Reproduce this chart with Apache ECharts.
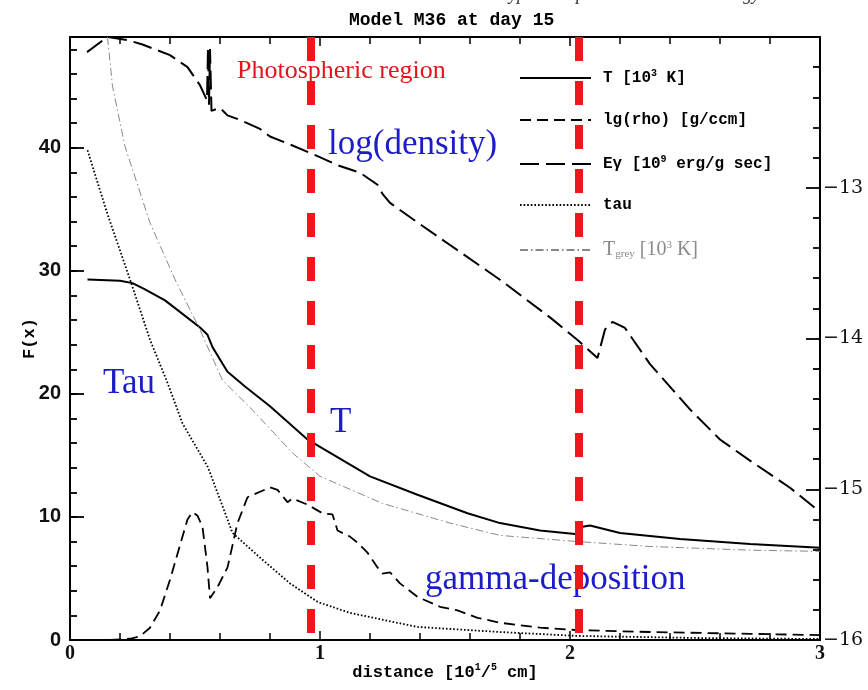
<!DOCTYPE html>
<html>
<head>
<meta charset="utf-8">
<script src="https://cdn.jsdelivr.net/npm/echarts@6/dist/echarts.min.js"></script>
<style>
html,body{margin:0;padding:0;background:#fff}
#chart{width:868px;height:690px}
</style>
</head>
<body>
<div id="chart"></div>
<script>
// Temperature T [10^3 K]
const tX = [0.07,0.2,0.25,0.3,0.38,0.45,0.52,0.55,0.57,0.6,0.63,0.7,0.8,0.95,1.0,1.2,1.39,1.59,1.72,1.88,2.03,2.05,2.08,2.2,2.44,2.72,3.0];
const tY = [29.3,29.2,29.0,28.5,27.6,26.5,25.4,24.8,23.8,22.8,21.8,20.6,19.0,16.3,15.7,13.3,11.8,10.3,9.5,8.9,8.6,9.2,9.3,8.7,8.2,7.8,7.5];
// Grey-atmosphere temperature
const tgX = [0.15,0.17,0.22,0.32,0.42,0.52,0.61,0.72,0.89,1.0,1.25,1.52,1.72,2.03,2.32,2.72,3.0];
const tgY = [49.0,45.0,40.1,33.9,29.3,25.2,21.1,18.9,15.2,13.3,11.1,9.5,8.5,8.0,7.6,7.3,7.2];
// Optical depth
const tauX = [0.07,0.15,0.24,0.32,0.39,0.45,0.55,0.56,0.65,0.76,0.88,0.99,1.12,1.39,1.72,2.03,2.52,3.0];
const tauY = [39.8,34.6,29.3,24.4,20.9,17.6,14.1,13.6,8.7,6.7,4.6,3.1,2.2,1.06,0.65,0.33,0.16,0.08];
// Gamma-ray energy deposition
const gamX = [0.16,0.24,0.28,0.32,0.36,0.40,0.44,0.47,0.49,0.51,0.53,0.55,0.56,0.59,0.63,0.67,0.71,0.80,0.83,0.87,0.89,0.95,1.01,1.05,1.07,1.12,1.15,1.19,1.23,1.25,1.28,1.32,1.39,1.48,1.55,1.63,1.72,1.88,2.03,2.32,2.72,3.0];
const gamY = [0,0.1,0.3,1.0,2.4,4.9,7.7,9.8,10.4,10.1,9.2,5.9,3.4,4.3,5.9,9.5,11.6,12.4,12.2,11.2,11.5,11.0,10.3,10.2,8.9,8.4,7.9,7.1,5.9,5.4,5.5,4.6,3.5,2.7,2.4,1.8,1.4,1.0,0.8,0.65,0.5,0.4];
// log10 density (right axis)
const rhoX = [0.068,0.15,0.23,0.29,0.40,0.47,0.52,0.548,0.552,0.556,0.56,0.566,0.60,0.63,0.68,0.76,0.80,0.89,0.99,1.07,1.16,1.23,1.25,1.28,1.39,1.52,1.72,1.92,2.03,2.11,2.14,2.17,2.22,2.32,2.48,2.60,2.72,2.88,3.0];
const rhoY = [-12.10,-12.00,-12.02,-12.05,-12.12,-12.20,-12.32,-12.42,-12.07,-12.45,-12.08,-12.49,-12.47,-12.52,-12.55,-12.61,-12.66,-12.72,-12.79,-12.85,-12.90,-12.98,-13.04,-13.10,-13.23,-13.38,-13.61,-13.86,-14.01,-14.13,-13.94,-13.89,-13.93,-14.17,-14.47,-14.67,-14.81,-14.99,-15.15];
// Boundaries of the photospheric region
const photoBounds = [0.964, 2.036];

const pairs = (xs, ys) => xs.map((x, i) => [x, ys[i]]);

const chart = echarts.init(document.getElementById('chart'), null, {renderer: 'canvas'});

const tickFont = {fontFamily: 'Liberation Serif', fontWeight: 'bold', fontSize: 20, color: '#111'};
const axisLine = {show: true, onZero: false, lineStyle: {color: '#000', width: 2}};
const shortDash = [11, 6];
const longDash = [19, 7];

const legendText = {
  T: '{b|T [10}{s|3}{b| K]}',
  rho: '{b|lg(rho) [g/ccm]}',
  Egamma: '{b|Eγ [10}{s|9}{b| erg/g sec]}',
  tau: '{b|tau}',
  Tgrey: '{g|T}{gb|grey}{g| [10}{gs|3}{g| K]}'
};
const legendRows = [
  {name: 'T', y: 78},
  {name: 'rho', y: 122, lineStyle: {type: shortDash}},
  {name: 'Egamma', y: 164, lineStyle: {type: longDash}},
  {name: 'tau', y: 207},
  {name: 'Tgrey', y: 250}
];
const legendRich = {
  b: {fontFamily: 'Liberation Mono', fontWeight: 'bold', fontSize: 16, color: '#000', lineHeight: 20},
  s: {fontFamily: 'Liberation Mono', fontWeight: 'bold', fontSize: 10, color: '#000', verticalAlign: 'top', lineHeight: 20},
  g: {fontFamily: 'Liberation Serif', fontSize: 20, color: '#8a8a8a', lineHeight: 20},
  gb: {fontFamily: 'Liberation Serif', fontSize: 11, color: '#8a8a8a', verticalAlign: 'bottom', lineHeight: 20},
  gs: {fontFamily: 'Liberation Serif', fontSize: 11, color: '#8a8a8a', verticalAlign: 'top', lineHeight: 20}
};

const option = {
  backgroundColor: '#fff',
  animation: false,
  title: {
    text: 'Model M36 at day 15',
    left: 344, top: 6,
    textStyle: {fontFamily: 'Liberation Mono', fontWeight: 'bold', fontSize: 18, color: '#000'}
  },
  legend: legendRows.map(r => ({
    data: [r.lineStyle ? {name: r.name, lineStyle: r.lineStyle} : r.name],
    left: 519, top: r.y - 10,
    itemWidth: 71, itemHeight: 20, padding: 0,
    itemStyle: {color: 'rgba(0,0,0,0)', borderWidth: 0},
    formatter: n => legendText[n],
    textStyle: {rich: legendRich, padding: [0, 0, 0, 7]},
    selectedMode: false
  })),
  grid: {left: 70, right: 48, top: 37, bottom: 50},
  xAxis: [
    {
      type: 'value', min: 0, max: 3, interval: 1, position: 'bottom',
      axisLine, splitLine: {show: false},
      axisTick: {inside: true, length: 9, lineStyle: {color: '#000', width: 1.5}},
      minorTick: {show: true, splitNumber: 5, length: 7, lineStyle: {color: '#000', width: 1.5}},
      axisLabel: Object.assign({margin: 4}, tickFont),
      name: '{n|distance [10}{s|1}{n|/}{s|5}{n| cm]}',
      nameLocation: 'middle', nameGap: 22, nameMoveOverlap: false,
      nameTextStyle: {verticalAlign: 'top', rich: {
        n: {fontFamily: 'Liberation Mono', fontWeight: 'bold', fontSize: 17, color: '#000', lineHeight: 22},
        s: {fontFamily: 'Liberation Mono', fontWeight: 'bold', fontSize: 10, color: '#000', verticalAlign: 'top', lineHeight: 22}
      }}
    },
    {
      type: 'value', min: 0, max: 3, interval: 1, position: 'top',
      axisLine, splitLine: {show: false}, axisLabel: {show: false},
      axisTick: {inside: true, length: 9, lineStyle: {color: '#000', width: 1.5}},
      minorTick: {show: true, splitNumber: 5, length: 7, lineStyle: {color: '#000', width: 1.5}}
    }
  ],
  yAxis: [
    {
      type: 'value', min: 0, max: 49, interval: 10, position: 'left',
      axisLine, splitLine: {show: false},
      axisTick: {inside: true, length: 14, lineStyle: {color: '#000', width: 1.8}},
      axisLabel: {margin: 9, showMaxLabel: false, fontFamily: 'Liberation Sans', fontWeight: 'bold', fontSize: 20, color: '#111'},
      name: 'F(x)', nameLocation: 'middle', nameGap: 32, nameRotate: 90, nameMoveOverlap: false,
      nameTextStyle: {fontFamily: 'Liberation Mono', fontWeight: 'bold', fontSize: 17, color: '#000'}
    },
    {
      type: 'value', min: -16, max: -12, interval: 1, position: 'right',
      axisLine, splitLine: {show: false},
      axisTick: {inside: true, length: 14, lineStyle: {color: '#000', width: 1.8}},
      minorTick: {show: true, splitNumber: 5, length: 7, lineStyle: {color: '#000', width: 1.8}},
      axisLabel: {margin: 3, showMaxLabel: false, fontFamily: 'DejaVu Serif', fontSize: 19, color: '#111',
        formatter: v => String(v).replace('-', '\u2212')}
    },
    {
      // minor ticks of the F(x) scale
      type: 'value', min: 0, max: 49, interval: 2, position: 'left',
      axisLine: {show: false, onZero: false}, splitLine: {show: false}, axisLabel: {show: false},
      axisTick: {inside: true, length: 7, lineStyle: {color: '#000', width: 1.8}}
    }
  ],
  series: [
    {name: 'T', type: 'line', yAxisIndex: 0, data: pairs(tX, tY), symbol: 'none',
      lineStyle: {color: '#000', width: 2}},
    {name: 'Egamma', type: 'line', yAxisIndex: 0, data: pairs(gamX, gamY), symbol: 'none',
      lineStyle: {color: '#000', width: 1.8, type: shortDash}},
    {name: 'rho', type: 'line', yAxisIndex: 1, data: pairs(rhoX, rhoY), symbol: 'none',
      lineStyle: {color: '#000', width: 2, type: longDash}},
    {name: 'tau', type: 'line', yAxisIndex: 0, data: pairs(tauX, tauY), symbol: 'none',
      lineStyle: {color: '#000', width: 1.8, type: [1.6, 2]}},
    {name: 'Tgrey', type: 'line', yAxisIndex: 0, data: pairs(tgX, tgY), symbol: 'none',
      lineStyle: {color: '#888', width: 1, type: [8, 3, 1.5, 3]}},
    ...photoBounds.map(b => ({
      name: 'photosphere', type: 'line', yAxisIndex: 0, z: 10, symbol: 'none', silent: true,
      data: [[b, 49], [b, 0]],
      lineStyle: {color: '#f2161b', width: 8, type: [24, 20]}
    }))
  ],
  graphic: [
    {type: 'text', right: 108, top: -14, style: {text: 'Type Ia Supernovae and Cosmology', fontFamily: 'Liberation Serif', fontStyle: 'italic', fontSize: 18, fill: '#333'}},
    {type: 'text', left: 237, top: 58, style: {text: 'Photospheric region', fontFamily: 'Liberation Serif', fontSize: 26, fill: '#e0161c'}},
    {type: 'text', left: 328, top: 127, style: {text: 'log(density)', fontFamily: 'Liberation Serif', fontSize: 35, fill: '#1c1cc8'}},
    {type: 'text', left: 103, top: 366, style: {text: 'Tau', fontFamily: 'Liberation Serif', fontSize: 35, fill: '#1c1cc8'}},
    {type: 'text', left: 330, top: 405, style: {text: 'T', fontFamily: 'Liberation Serif', fontSize: 35, fill: '#1c1cc8'}},
    {type: 'text', left: 425, top: 562, style: {text: 'gamma-deposition', fontFamily: 'Liberation Serif', fontSize: 35, fill: '#1c1cc8'}}
  ]
};
chart.setOption(option);
</script>
</body>
</html>
